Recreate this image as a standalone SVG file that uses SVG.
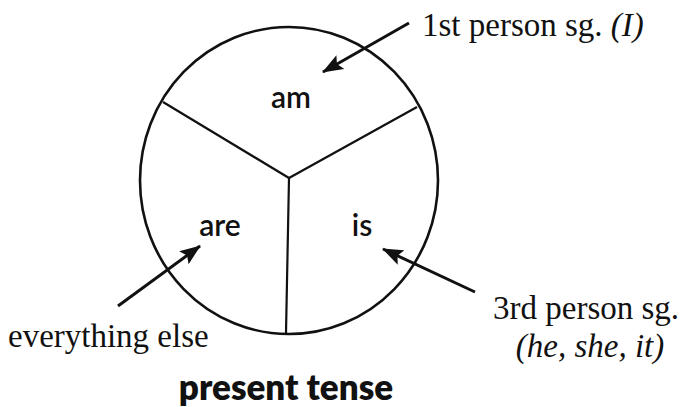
<svg xmlns="http://www.w3.org/2000/svg" width="685" height="407" viewBox="0 0 685 407">
  <defs>
    <style>
      .bg { fill: #ffffff; }
      .outline { fill: none; stroke: #111111; stroke-width: 2.6; }
      .divider { fill: none; stroke: #111111; stroke-width: 2.2; }
      .arrow { fill: none; stroke: #111111; stroke-width: 3; marker-end: url(#head); }
      .sans { font-family: Lato, "Open Sans", "DejaVu Sans", sans-serif; fill: #111111; }
      .word { font-size: 30px; font-weight: 600; text-anchor: middle; }
      .title { font-size: 35px; font-weight: 800; text-anchor: middle; }
      .serif { font-family: "Liberation Serif", "DejaVu Serif", serif; font-size: 33px; fill: #111111; }
      .it { font-style: italic; }
    </style>
    <marker id="head" viewBox="0 0 21 16" refX="20" refY="8" markerWidth="21" markerHeight="16" markerUnits="userSpaceOnUse" orient="auto">
      <path d="M0,0 L21,8 L0,16 L4,8 z" fill="#111111"/>
    </marker>
  </defs>
  <rect class="bg" x="0" y="0" width="685" height="407"/>

  <g id="pie">
    <ellipse class="outline" cx="289" cy="180.5" rx="149" ry="153.5"/>
    <line class="divider" x1="289" y1="178" x2="163" y2="102"/>
    <line class="divider" x1="289" y1="178" x2="417" y2="107"/>
    <line class="divider" x1="289" y1="178" x2="286" y2="333"/>
  </g>

  <g id="node-am">
    <text class="sans word" x="291" y="108">am</text>
  </g>
  <g id="node-are">
    <text class="sans word" x="220" y="236">are</text>
  </g>
  <g id="node-is">
    <text class="sans word" x="362" y="236">is</text>
  </g>

  <g id="connectors">
    <line class="arrow" x1="409" y1="23" x2="323" y2="72"/>
    <line class="arrow" x1="118" y1="306" x2="200" y2="246"/>
    <line class="arrow" x1="475" y1="292" x2="383" y2="249"/>
  </g>

  <g id="label-first">
    <text class="serif" x="422" y="36">1st person sg. <tspan class="it">(I)</tspan></text>
  </g>
  <g id="label-else">
    <text class="serif" x="8" y="347">everything else</text>
  </g>
  <g id="label-third">
    <text class="serif" x="493" y="319">3rd person sg.</text>
    <text class="serif it" x="590" y="357" text-anchor="middle" font-size="30">(he, she, it)</text>
  </g>
  <g id="caption">
    <text class="sans title" x="286" y="400">present tense</text>
  </g>
</svg>
